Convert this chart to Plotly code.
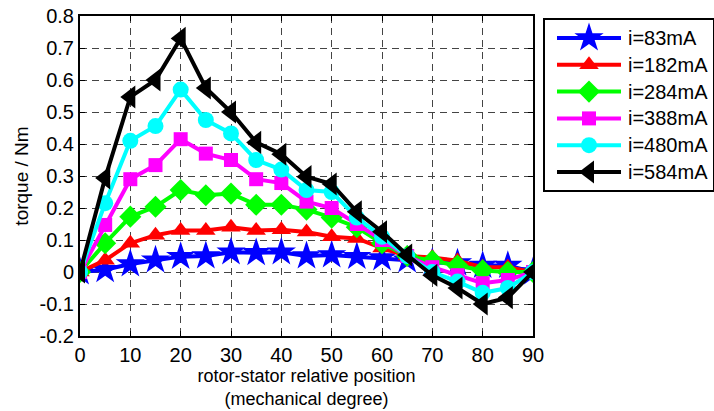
import plotly.graph_objects as go

# rotor position (mechanical degrees)
position = [0, 5, 10, 15, 20, 25, 30, 35, 40, 45, 50, 55, 60, 65, 70, 75, 80, 85, 90]

# measured torque (Nm) for each excitation current
torque_83 = [0, 0.007, 0.025, 0.037, 0.048, 0.05, 0.062, 0.06, 0.062, 0.05, 0.053, 0.048, 0.044, 0.037, 0.03, 0.028, 0.02, 0.02, 0.0]
torque_182 = [0, 0.037, 0.09, 0.115, 0.13, 0.13, 0.14, 0.13, 0.132, 0.125, 0.11, 0.105, 0.075, 0.05, 0.045, 0.035, 0.015, 0.015, 0.0]
torque_284 = [0, 0.09, 0.173, 0.204, 0.256, 0.24, 0.245, 0.21, 0.21, 0.195, 0.17, 0.14, 0.09, 0.05, 0.035, 0.02, 0.005, 0.0, 0.0]
torque_388 = [0, 0.147, 0.29, 0.334, 0.415, 0.37, 0.35, 0.29, 0.278, 0.22, 0.2, 0.15, 0.1, 0.05, 0.015, -0.01, -0.035, -0.025, 0.0]
torque_480 = [0, 0.215, 0.41, 0.456, 0.57, 0.475, 0.433, 0.35, 0.32, 0.256, 0.25, 0.17, 0.11, 0.05, 0.0, -0.03, -0.065, -0.05, 0.0]
torque_584 = [0, 0.294, 0.547, 0.60, 0.73, 0.575, 0.50, 0.405, 0.368, 0.298, 0.275, 0.188, 0.126, 0.053, -0.01, -0.05, -0.10, -0.08, 0.0]

series_names = ["i=83mA", "i=182mA", "i=284mA", "i=388mA", "i=480mA", "i=584mA"]
series_values = [torque_83, torque_182, torque_284, torque_388, torque_480, torque_584]

colors = ["#0000ff", "#ff0000", "#00ff00", "#ff00ff", "#00ffff", "#000000"]
symbols = ["star", "triangle-up", "diamond", "square", "circle", "triangle-left"]
sizes = [22, 17, 17, 14, 16, 20]

y_ticks = [-0.2, -0.1, 0, 0.1, 0.2, 0.3, 0.4, 0.5, 0.6, 0.7, 0.8]
x_ticks = [0, 10, 20, 30, 40, 50, 60, 70, 80, 90]

FONT = "Liberation Sans, Arial, sans-serif"

W, H = 714, 411
L, R, T, B = 80, 0, 16, 75
plot_w = W - L - R
plot_h = H - T - B


def fx(px):
    """pixel column -> fraction of the plotting area"""
    return (px - L) / plot_w


def fy(py):
    """pixel row -> fraction of the plotting area (bottom = 0)"""
    return (H - B - py) / plot_h


fig = go.Figure()

for name, vals, c, s, sz in zip(series_names, series_values, colors, symbols, sizes):
    fig.add_trace(go.Scatter(
        x=position, y=vals, mode="lines+markers", name=name,
        line=dict(color=c, width=4),
        marker=dict(symbol=s, size=sz, color=c, line=dict(width=0)),
        xaxis="x", yaxis="y", showlegend=False,
    ))

# hand-built legend box on its own pair of axes
row0, row_step = 18, 26.8
for k, (name, c, s, sz) in enumerate(zip(series_names, colors, symbols, sizes)):
    ry = row0 + row_step * k
    fig.add_trace(go.Scatter(
        x=[12, 76], y=[ry, ry], mode="lines",
        line=dict(color=c, width=4), xaxis="x2", yaxis="y2",
        showlegend=False, hoverinfo="skip",
    ))
    fig.add_trace(go.Scatter(
        x=[44], y=[ry], mode="markers",
        marker=dict(symbol=s, size=sz, color=c, line=dict(width=0)),
        xaxis="x2", yaxis="y2", showlegend=False, hoverinfo="skip",
    ))
    fig.add_annotation(
        x=82, y=ry, xref="x2", yref="y2", text=name, showarrow=False,
        xanchor="left", yanchor="middle", borderpad=0,
        font=dict(size=20, color="black", family=FONT),
    )

grid = dict(showgrid=True, gridcolor="#444444", gridwidth=1, griddash="7px,5px",
            showline=True, linecolor="black", linewidth=2, mirror="ticks",
            ticks="inside", ticklen=5, tickcolor="black", tickwidth=1,
            zeroline=False, automargin=False,
            tickfont=dict(size=20, color="black", family=FONT))

fig.update_layout(
    width=W, height=H,
    margin=dict(l=L, r=R, t=T, b=B, pad=0, autoexpand=False),
    paper_bgcolor="white", plot_bgcolor="white",
    showlegend=False,
    font=dict(family=FONT, color="black"),
    xaxis=dict(domain=[0, fx(533)], range=[0, 90], tickvals=x_ticks,
               ticktext=[f"{v:g}" for v in x_ticks],
               title=dict(text="rotor-stator relative position<br>(mechanical degree)",
                          font=dict(size=18, family=FONT), standoff=4),
               **grid),
    yaxis=dict(domain=[0, 1], range=[-0.2, 0.8], tickvals=y_ticks,
               ticktext=[f"{v:g}" for v in y_ticks],
               title=dict(text="torque / Nm", font=dict(size=19, family=FONT), standoff=6),
               **grid),
    xaxis2=dict(domain=[fx(545), fx(713)], range=[0, 168],
                showgrid=False, zeroline=False, showticklabels=False, ticks="",
                showline=True, linecolor="black", linewidth=1.5, mirror=True,
                anchor="y2", fixedrange=True, automargin=False),
    yaxis2=dict(domain=[fy(190), fy(20)], range=[170, 0],
                showgrid=False, zeroline=False, showticklabels=False, ticks="",
                showline=True, linecolor="black", linewidth=1.5, mirror=True,
                anchor="x2", fixedrange=True, automargin=False),
)

fig.write_html("out.html")
